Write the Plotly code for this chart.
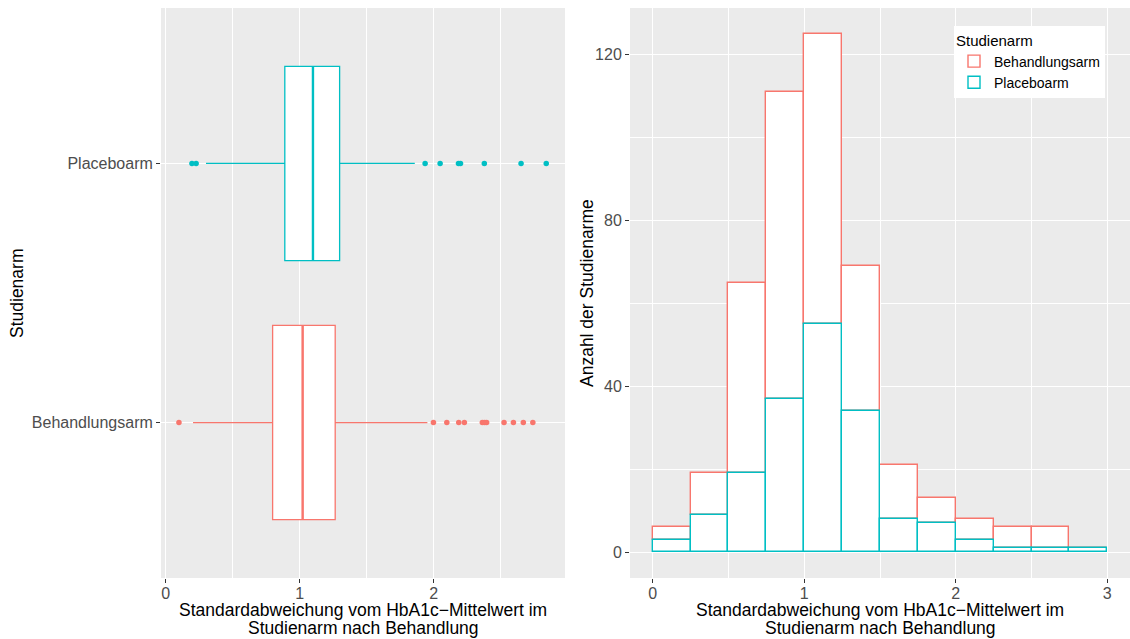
import plotly.graph_objects as go

# ---------------- data ----------------
arms = ["Behandlungsarm", "Placeboarm"]
arm_colors = ["#F8766D", "#00BFC4"]

# boxplot summary statistics per arm
box_q1 = [0.798, 0.889]
box_median = [1.022, 1.099]
box_q3 = [1.265, 1.298]
box_lower = [0.204, 0.301]
box_upper = [1.953, 1.859]

# outlying study arms
outliers_behandlung = [0.099, 1.998, 2.098, 2.187, 2.229, 2.363, 2.380, 2.395,
                       2.525, 2.595, 2.669, 2.740]
outliers_placebo = [0.196, 0.227, 1.936, 2.048, 2.185, 2.200, 2.378, 2.652, 2.840]

# histogram (bin width 0.25)
bin_mid = [0.125, 0.375, 0.625, 0.875, 1.125, 1.375, 1.625, 1.875,
           2.125, 2.375, 2.625, 2.875]
bin_width = 0.25
counts_behandlung = [3, 10, 46, 74, 70, 35, 13, 6, 5, 5, 5, 0]
counts_placebo = [3, 9, 19, 37, 55, 34, 8, 7, 3, 1, 1, 1]

x_title_lines = ["Standardabweichung vom HbA1c\u2212Mittelwert im",
                 "Studienarm nach Behandlung"]
y_title_left = "Studienarm"
y_title_right = "Anzahl der Studienarme"
legend_title = "Studienarm"

# ---------------- figure ----------------
FONT = "Liberation Sans, Arial, Helvetica, sans-serif"
W, H = 1130, 639
ML, MR, MT, MB = 0, 0, 8, 61
box_w = 0.75

fig = go.Figure()

outliers = [outliers_behandlung, outliers_placebo]
for i, arm in enumerate(arms):
    pos = i + 1
    fig.add_trace(go.Box(
        orientation="h", y=[pos], q1=[box_q1[i]], median=[box_median[i]],
        q3=[box_q3[i]], lowerfence=[box_lower[i]], upperfence=[box_upper[i]],
        width=box_w, whiskerwidth=0, fillcolor="white",
        line=dict(color=arm_colors[i], width=1.3), boxpoints=False,
        showlegend=False, xaxis="x", yaxis="y", name=arm))
    # thicker median line (ggplot fatten)
    fig.add_trace(go.Scatter(
        x=[box_median[i], box_median[i]], y=[pos - box_w / 2, pos + box_w / 2],
        mode="lines", line=dict(color=arm_colors[i], width=2.4),
        showlegend=False, hoverinfo="skip", xaxis="x", yaxis="y"))
    fig.add_trace(go.Scatter(
        x=outliers[i], y=[pos] * len(outliers[i]), mode="markers",
        marker=dict(color=arm_colors[i], size=5.5), showlegend=False,
        xaxis="x", yaxis="y"))

# stacked histogram: Placebo at the bottom, Behandlungsarm stacked on top,
# placebo outlines drawn last (on top) as in ggplot
fig.add_trace(go.Bar(
    x=bin_mid, y=counts_behandlung, base=counts_placebo, width=bin_width,
    name=arms[0],
    marker=dict(color="white", line=dict(color=arm_colors[0], width=1.4)),
    xaxis="x2", yaxis="y2"))
fig.add_trace(go.Bar(
    x=bin_mid, y=counts_placebo, width=bin_width, name=arms[1],
    marker=dict(color="white", line=dict(color=arm_colors[1], width=1.4)),
    xaxis="x2", yaxis="y2"))

axis_common = dict(
    showgrid=True, gridcolor="white", gridwidth=1.3, zeroline=False,
    showline=False, ticks="outside", ticklen=4, tickwidth=1.1,
    tickcolor="#333333", tickfont=dict(family=FONT, size=16, color="#4D4D4D"),
    automargin=False)

px_w = W - ML - MR
fig.update_layout(
    width=W, height=H, autosize=False,
    margin=dict(l=ML, r=MR, t=MT, b=MB, pad=0),
    paper_bgcolor="white", plot_bgcolor="#EBEBEB",
    barmode="overlay", bargap=0,
    font=dict(family=FONT, color="black"),
    xaxis=dict(domain=[161 / px_w, 565 / px_w], range=[-0.035, 2.98],
               tickvals=[0, 1, 2], anchor="y", ticklabelstandoff=-3,
               minor=dict(dtick=0.5, tick0=0, showgrid=True, gridcolor="white",
                          gridwidth=0.6, ticklen=0),
               **axis_common),
    yaxis=dict(domain=[0, 1], range=[0.4, 2.6], tickvals=[1, 2],
               ticktext=arms, anchor="x", **axis_common),
    xaxis2=dict(domain=[630 / px_w, 1], range=[-0.15, 3.15],
                tickvals=[0, 1, 2, 3], anchor="y2", ticklabelstandoff=-3,
                minor=dict(dtick=0.5, tick0=0, showgrid=True, gridcolor="white",
                           gridwidth=0.6, ticklen=0),
                **axis_common),
    yaxis2=dict(domain=[0, 1], range=[-6.25, 131.25], tickvals=[0, 40, 80, 120],
                anchor="x2",
                minor=dict(dtick=20, tick0=0, showgrid=True, gridcolor="white",
                           gridwidth=0.6, ticklen=0),
                **axis_common),
    legend=dict(x=954 / px_w, y=1 - (26 - MT) / (H - MT - MB),
                xanchor="left", yanchor="top", bgcolor="white",
                traceorder="normal",
                title=dict(text=legend_title, font=dict(family=FONT, size=15)),
                font=dict(family=FONT, size=14, color="black"),
                tracegroupgap=0),
)

ph = H - MT - MB
def py(p):
    return (H - MB - p) / ph

ann = []
for cx in [363 / px_w, 880 / px_w]:
    ann.append(dict(text=x_title_lines[0], x=cx, y=py(610), xref="paper",
                    yref="paper", showarrow=False, xanchor="center",
                    yanchor="middle", font=dict(family=FONT, size=17.5, color="black")))
    ann.append(dict(text=x_title_lines[1], x=cx, y=py(627.5), xref="paper",
                    yref="paper", showarrow=False, xanchor="center",
                    yanchor="middle", font=dict(family=FONT, size=17.5, color="black")))
ann.append(dict(text=y_title_left, x=17 / px_w, y=0.5, xref="paper", yref="paper",
                showarrow=False, textangle=-90, xanchor="center", yanchor="middle",
                font=dict(family=FONT, size=17.5, color="black")))
ann.append(dict(text=y_title_right, x=587 / px_w, y=0.5, xref="paper", yref="paper",
                showarrow=False, textangle=-90, xanchor="center", yanchor="middle",
                font=dict(family=FONT, size=17.5, color="black")))
fig.update_layout(annotations=ann)

fig.write_html("out.html")
